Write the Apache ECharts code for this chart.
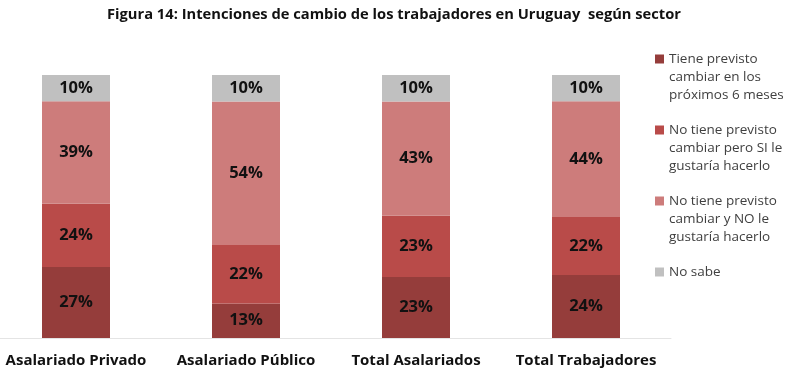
<!DOCTYPE html>
<html>
<head>
<meta charset="utf-8">
<script src="https://cdn.jsdelivr.net/npm/echarts@6/dist/echarts.min.js"></script>
<style>
  html, body { margin: 0; padding: 0; background: #fff; overflow: hidden; }
  /* shifted 9px left so the first category band starts off-screen, like the original */
  #chart { width: 799px; height: 376px; margin-left: -9px; }
</style>
</head>
<body>
<div id="chart"></div>
<script>
var categories = ['Asalariado Privado', 'Asalariado Público', 'Total Asalariados', 'Total Trabajadores'];
var seriesNames = [
    'Tiene previsto\ncambiar en los\npróximos 6 meses',
    'No tiene previsto\ncambiar pero SI le\ngustaría hacerlo',
    'No tiene previsto\ncambiar y NO le\ngustaría hacerlo',
    'No sabe'
];
var cambiar6meses = [27, 13, 23, 24];
var noPeroSi = [24, 22, 23, 22];
var noYNo = [39, 54, 43, 44];
var noSabe = [10, 10, 10, 10];
var colors = ['#953d3b', '#b94b49', '#cd7c7b', '#c0c0c0'];

var allValues = [cambiar6meses, noPeroSi, noYNo, noSabe];
// totals per category, so each bar fills 100%
var totals = categories.map(function (c, i) {
    return allValues.reduce(function (s, arr) { return s + arr[i]; }, 0);
});

var mychart = echarts.init(document.getElementById('chart'));
var option = {
    backgroundColor: '#fff',
    animation: false,
    color: colors,
    title: {
        text: 'Figura 14: Intenciones de cambio de los trabajadores en Uruguay  según sector',
        left: 398,
        textAlign: 'center',
        top: 2,
        textStyle: { fontFamily: 'Open Sans', fontSize: 14.7, fontWeight: 'bold', color: '#111' }
    },
    legend: {
        orient: 'vertical',
        left: 659,
        top: 9,
        icon: 'rect',
        itemWidth: 9,
        itemHeight: 9,
        itemGap: -19,
        data: seriesNames,
        // blank lines so the square sits level with the first line of each label
        formatter: function (name) {
            return '\n\n' + name + (name.indexOf('\n') < 0 ? '\n\n' : '');
        },
        textStyle: { fontFamily: 'Open Sans', fontSize: 13.5, lineHeight: 18, color: '#404040' }
    },
    grid: { left: 0, width: 680, top: 75, bottom: 38, containLabel: false },
    xAxis: {
        type: 'category',
        data: categories,
        axisLine: { lineStyle: { color: '#e4e4e4', width: 1 } },
        axisTick: { show: false },
        axisLabel: { interval: 0, margin: 15, fontFamily: 'Open Sans', fontSize: 15, fontWeight: 'bold', color: '#111' }
    },
    yAxis: { type: 'value', min: 0, max: 100, show: false, splitLine: { show: false } },
    series: allValues.map(function (arr, k) {
        return {
            name: seriesNames[k],
            type: 'bar',
            stack: 'total',
            barWidth: 68,
            data: arr.map(function (v, i) {
                return { value: v / totals[i] * 100, raw: v };
            }),
            label: {
                show: true,
                position: 'inside',
                formatter: function (p) { return p.data.raw + '%'; },
                fontFamily: 'Open Sans',
                fontSize: 16.5,
                fontWeight: 'bold',
                color: '#111'
            }
        };
    })
};
mychart.setOption(option);
</script>
</body>
</html>
